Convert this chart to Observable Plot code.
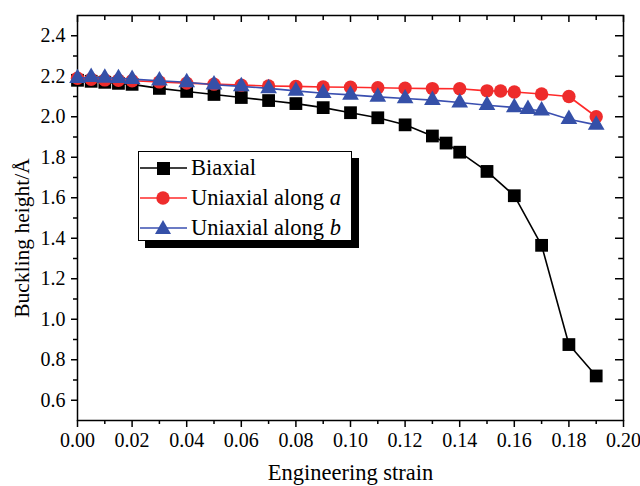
<!DOCTYPE html>
<html>
<head>
<meta charset="utf-8">
<script src="https://cdn.jsdelivr.net/npm/d3@7"></script>
<script src="https://cdn.jsdelivr.net/npm/@observablehq/plot@0.6"></script>
<style>
  html, body { margin: 0; padding: 0; background: #fff; }
  #wrap { position: relative; width: 640px; height: 486px; font-family: "Liberation Serif", "Times New Roman", serif; }
  #legend { position: absolute; left: 138px; top: 151px; width: 212px; height: 88px; border: 1px solid #000; background: #fff; box-shadow: 7px 7px 0 #000; }
  .row { position: absolute; left: 0; height: 30px; display: flex; align-items: center; font-size: 22.5px; color: #000; white-space: nowrap; }
  .row svg { display: block; margin-right: 3px; }
</style>
</head>
<body>
<div id="wrap"></div>
<script>
// ---- data ----
const strainBiaxial = [0, 0.005, 0.01, 0.015, 0.02, 0.03, 0.04, 0.05, 0.06, 0.07, 0.08, 0.09, 0.10, 0.11, 0.12, 0.13, 0.135, 0.14, 0.15, 0.16, 0.17, 0.18, 0.19];
const heightBiaxial = [2.18, 2.175, 2.17, 2.165, 2.16, 2.14, 2.125, 2.11, 2.095, 2.08, 2.065, 2.045, 2.02, 1.995, 1.96, 1.905, 1.87, 1.825, 1.73, 1.61, 1.365, 0.875, 0.72];

const strainA = [0, 0.005, 0.01, 0.015, 0.02, 0.03, 0.04, 0.05, 0.06, 0.07, 0.08, 0.09, 0.10, 0.11, 0.12, 0.13, 0.14, 0.15, 0.155, 0.16, 0.17, 0.18, 0.19];
const heightA = [2.19, 2.185, 2.182, 2.18, 2.178, 2.172, 2.166, 2.161, 2.156, 2.152, 2.15, 2.147, 2.146, 2.143, 2.141, 2.139, 2.138, 2.128, 2.127, 2.122, 2.112, 2.10, 2.0];

const strainB = [0, 0.005, 0.01, 0.015, 0.02, 0.03, 0.04, 0.05, 0.06, 0.07, 0.08, 0.09, 0.10, 0.11, 0.12, 0.13, 0.14, 0.15, 0.16, 0.165, 0.17, 0.18, 0.19];
const heightB = [2.19, 2.195, 2.192, 2.19, 2.186, 2.178, 2.17, 2.158, 2.15, 2.14, 2.128, 2.116, 2.108, 2.098, 2.09, 2.082, 2.07, 2.057, 2.046, 2.037, 2.03, 1.988, 1.96];

const xMajor = [0, 0.02, 0.04, 0.06, 0.08, 0.10, 0.12, 0.14, 0.16, 0.18, 0.20];
const xMinor = [0.01, 0.03, 0.05, 0.07, 0.09, 0.11, 0.13, 0.15, 0.17, 0.19];
const yMajor = [0.6, 0.8, 1.0, 1.2, 1.4, 1.6, 1.8, 2.0, 2.2, 2.4];
const yMinor = [0.7, 0.9, 1.1, 1.3, 1.5, 1.7, 1.9, 2.1, 2.3];

const seriesNames = ["Biaxial", "Uniaxial along a", "Uniaxial along b"];
const colors = { "Biaxial": "#000000", "Uniaxial along a": "#ee2c2c", "Uniaxial along b": "#3550a8" };
const lineColors = { "Biaxial": "#000000", "Uniaxial along a": "#ff2a2a", "Uniaxial along b": "#3a4fb0" };

const toRows = (xs, ys, s) => xs.map((x, i) => ({ x, y: ys[i], s }));
const dBi = toRows(strainBiaxial, heightBiaxial, "Biaxial");
const dA = toRows(strainA, heightA, "Uniaxial along a");
const dB = toRows(strainB, heightB, "Uniaxial along b");

const yTickLen = 7 / 202;   // inward tick length in y data units
const xTickLen = 8 / 2730;  // inward tick length in x data units

const chart = Plot.plot({
  width: 640,
  height: 486,
  marginLeft: 77,
  marginRight: 17,
  marginTop: 15,
  marginBottom: 66,
  style: { fontFamily: "Liberation Serif, Times New Roman, serif", background: "#fff", color: "#000", overflow: "visible" },
  x: { domain: [0, 0.2] },
  y: { domain: [0.5, 2.5] },
  marks: [
    Plot.axisX({ anchor: "bottom", ticks: xMajor, tickSize: 7, tickPadding: 5, tickFormat: d3.format(".2f"), fontSize: 20, label: null, strokeWidth: 1.5 }),
    Plot.axisX({ anchor: "bottom", ticks: xMinor, tickSize: 4, text: null, label: null, strokeWidth: 1.5 }),
    Plot.axisY({ anchor: "left", ticks: yMajor, tickSize: 6, tickPadding: 6, tickFormat: d3.format(".1f"), fontSize: 20, label: null, strokeWidth: 1.5 }),
    Plot.axisY({ anchor: "left", ticks: yMinor, tickSize: 4, text: null, label: null, strokeWidth: 1.5 }),
    Plot.ruleX(xMajor, { x: d => d, y1: 2.5, y2: 2.5 - yTickLen, stroke: "#000", strokeWidth: 1.5 }),
    Plot.ruleX(xMinor, { x: d => d, y1: 2.5, y2: 2.5 - yTickLen * 0.7, stroke: "#000", strokeWidth: 1.5 }),
    Plot.ruleY(yMajor, { y: d => d, x1: 0.2, x2: 0.2 - xTickLen, stroke: "#000", strokeWidth: 1.5 }),
    Plot.ruleY(yMinor, { y: d => d, x1: 0.2, x2: 0.2 - xTickLen * 0.6, stroke: "#000", strokeWidth: 1.5 }),
    Plot.frame({ stroke: "#000", strokeWidth: 1.5 }),
    Plot.line(dBi, { x: "x", y: "y", stroke: lineColors["Biaxial"], strokeWidth: 1.6 }),
    Plot.dot(dBi, { x: "x", y: "y", symbol: "square", r: 7.2, fill: colors["Biaxial"], stroke: "none" }),
    Plot.line(dA, { x: "x", y: "y", stroke: lineColors["Uniaxial along a"], strokeWidth: 1.6 }),
    Plot.dot(dA, { x: "x", y: "y", symbol: "circle", r: 6.7, fill: colors["Uniaxial along a"], stroke: "none" }),
    Plot.line(dB, { x: "x", y: "y", stroke: lineColors["Uniaxial along b"], strokeWidth: 1.6 }),
    Plot.dot(dB, { x: "x", y: "y", symbol: "triangle", r: 6.2, fill: colors["Uniaxial along b"], stroke: "none" }),
    Plot.text(["Engineering strain"], { frameAnchor: "bottom", dy: 52, textAnchor: "middle", lineAnchor: "middle", fontSize: 22.5, fill: "#000" }),
    Plot.text(["Buckling height/Å"], { frameAnchor: "left", dx: -55, dy: 20, rotate: -90, textAnchor: "middle", lineAnchor: "middle", fontSize: 21.5, fill: "#000" })
  ]
});

const wrap = document.getElementById("wrap");
wrap.appendChild(chart);

const legend = document.createElement("div");
legend.id = "legend";
const symbols = {
  "Biaxial": c => `<rect x="18" y="9" width="13" height="13" fill="${c}"/>`,
  "Uniaxial along a": c => `<circle cx="24" cy="15" r="6.7" fill="${c}"/>`,
  "Uniaxial along b": c => `<polygon points="24,7 32,21 16,21" fill="${c}"/>`
};
seriesNames.forEach((name, i) => {
  const row = document.createElement("div");
  row.className = "row";
  row.style.top = (1 + i * 30) + "px";
  const label = name.replace(/ (a|b)$/, ' <i>$1</i>');
  row.innerHTML = `<svg width="49" height="30"><line x1="1" x2="48" y1="15" y2="15" stroke="${lineColors[name]}" stroke-width="1.6"/>${symbols[name](colors[name])}</svg><span>${label}</span>`;
  legend.appendChild(row);
});
wrap.appendChild(legend);
</script>
</body>
</html>
